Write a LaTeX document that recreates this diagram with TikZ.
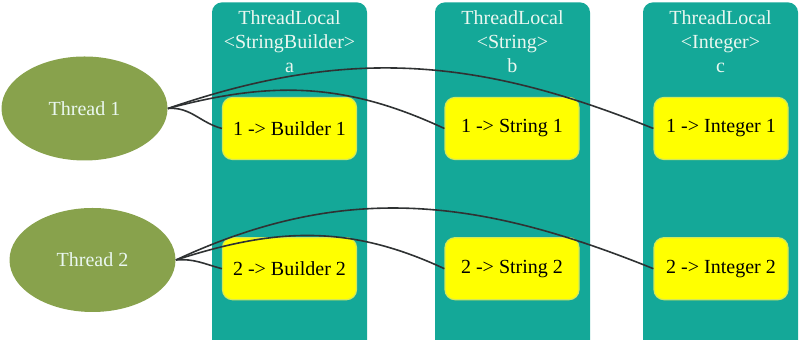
\documentclass[tikz,border=0pt]{standalone}
\usepackage{fontspec}
\setmainfont{Liberation Serif}
\usepackage{tikz}
\usetikzlibrary{positioning,shapes.geometric}
\definecolor{cteal}{HTML}{14A898}
\definecolor{colivo}{HTML}{88A24C}
\definecolor{camarillo}{HTML}{FFFF00}
\definecolor{cborde}{HTML}{D2E85A}
\definecolor{clinea}{HTML}{2F3233}
\definecolor{cclaro}{HTML}{EAF7F0}
\tikzset{
  columna/.style={rectangle, rounded corners=5pt, fill=cteal, draw=none,
    minimum width=77.5pt, minimum height=200pt, anchor=north},
  cabecera/.style={align=center, text=cclaro, font=\fontsize{10}{12}\selectfont},
  caja/.style={rectangle, rounded corners=5pt, draw=cborde, line width=0.6pt, fill=camarillo,
    minimum width=67pt, minimum height=31pt, font=\fontsize{10}{12}\selectfont},
  hilo/.style={ellipse, fill=colivo, draw=none, minimum width=83pt, minimum height=52pt,
    text=cclaro, font=\fontsize{10}{12}\selectfont},
  flecha/.style={draw=clinea, line width=0.8pt},
}
\begin{document}
\begin{tikzpicture}[x=0.5pt, y=-0.5pt]
  \useasboundingbox (0,0) rectangle (800,340);
  % columnas ThreadLocal
  \node[columna] (cola) at (289.5,2) {};
  \node[columna] (colb) at (512.5,2) {};
  \node[columna] (colc) at (720.5,2) {};
  \node[cabecera] (hda) at (289.5,42) {ThreadLocal\\<StringBuilder>\\a};
  \node[cabecera] (hdb) at (512.5,42) {ThreadLocal\\<String>\\b};
  \node[cabecera] (hdc) at (720.5,42) {ThreadLocal\\<Integer>\\c};
  % valores por hilo
  \node[caja] (a1) at (289.5,128.5) {1 -> Builder 1};
  \node[caja] (b1) at (512,128.5) {1 -> String 1};
  \node[caja] (c1) at (721,128.5) {1 -> Integer 1};
  \node[caja, below=38.5pt of a1] (a2) {2 -> Builder 2};
  \node[caja, below=38.5pt of b1] (b2) {2 -> String 2};
  \node[caja, below=38.5pt of c1] (c2) {2 -> Integer 2};
  % hilos
  \node[hilo] (t1) at (84.5,108.5) {Thread 1};
  \node[hilo] (t2) at (92.5,260) {Thread 2};
  \draw[flecha] (t1.east) to[out=5, in=165] (a1.west);
  \draw[flecha] (t1.east) to[out=15, in=155] (b1.west);
  \draw[flecha] (t1.east) to[out=19, in=158] (c1.west);
  \draw[flecha] (t2.east) to[out=5, in=165] (a2.west);
  \draw[flecha] (t2.east) to[out=18, in=155] (b2.west);
  \draw[flecha] (t2.east) to[out=25, in=158] (c2.west);
\end{tikzpicture}
\end{document}
